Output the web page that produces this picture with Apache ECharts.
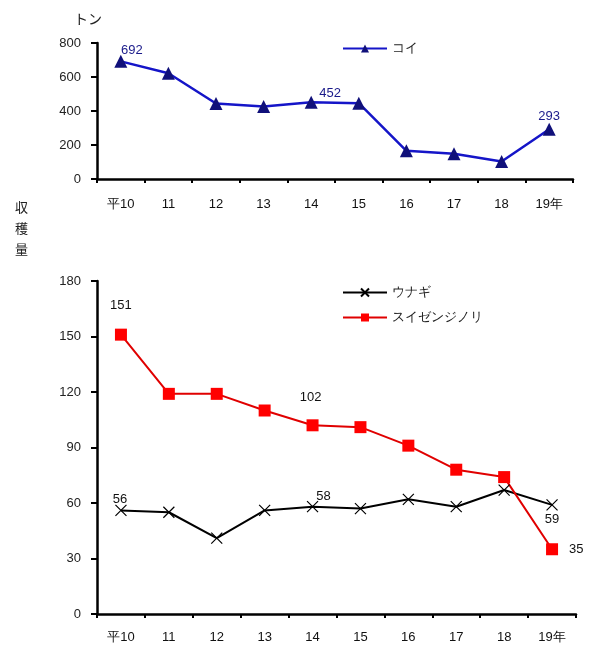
<!DOCTYPE html>
<html>
<head>
<meta charset="utf-8">
<script src="https://cdn.jsdelivr.net/npm/echarts@6/dist/echarts.min.js"></script>
<style>
html,body{margin:0;padding:0;background:#fff;}
#chart{width:591px;height:648px;}
</style>
</head>
<body>
<div id="chart"></div>
<script>
var categories = ['平10','11','12','13','14','15','16','17','18','19年'];
var koi = [692, 622, 444, 427, 452, 446, 166, 148, 103, 293];
var unagi = [56, 55, 41, 56, 58, 57, 62, 58, 67, 59];
var suizenji = [151, 119, 119, 110, 102, 101, 91, 78, 74, 35];
var koiTicks = [0, 200, 400, 600, 800];
var lowerTicks = [0, 30, 60, 90, 120, 150, 180];
var koiLabelIdx = [0, 4, 9];
var unagiLabelIdx = [0, 4, 9];
var suizenjiLabelIdx = [0, 4, 9];

var FONT = '"Liberation Sans", Arial, sans-serif';

function withLabels(values, idxs, labelCfg) {
  return values.map(function (v, i) {
    var k = idxs.indexOf(i);
    if (k < 0) return { value: v, label: { show: false } };
    return { value: v, label: Object.assign({ show: true }, labelCfg[k]) };
  });
}

var chart = echarts.init(document.getElementById('chart'), null, { renderer: 'canvas' });

var axisLine = { show: true, lineStyle: { color: '#000', width: 2.5 } };
var axisLabelY = { color: '#222', fontSize: 13, fontFamily: FONT, margin: 16 };

var option = {
  animation: false,
  backgroundColor: '#fff',
  grid: [
    { left: 97, top: 43, width: 476, height: 136 },
    { left: 97, top: 281, width: 479, height: 333 }
  ],
  legend: [
    {
      data: ['コイ'], left: 337, top: 37, itemWidth: 44, itemHeight: 10, itemGap: 4,
      textStyle: { color: '#222', fontSize: 13, fontFamily: FONT }
    },
    {
      data: ['ウナギ', 'スイゼンジノリ'], orient: 'vertical', left: 337, top: 281,
      itemWidth: 44, itemHeight: 10, itemGap: 12,
      textStyle: { color: '#222', fontSize: 13, fontFamily: FONT }
    }
  ],
  xAxis: [
    {
      gridIndex: 0, type: 'category', data: categories, boundaryGap: true,
      axisLine: axisLine,
      axisTick: { show: true, length: 4, lineStyle: { color: '#000', width: 2 } },
      axisLabel: { color: '#111', fontSize: 13, fontFamily: FONT, margin: 19 },
      splitLine: { show: false }
    },
    {
      gridIndex: 1, type: 'category', data: categories, boundaryGap: true,
      axisLine: axisLine,
      axisTick: { show: true, length: 4, lineStyle: { color: '#000', width: 2 } },
      axisLabel: { color: '#111', fontSize: 13, fontFamily: FONT, margin: 17 },
      splitLine: { show: false }
    }
  ],
  yAxis: [
    {
      gridIndex: 0, type: 'value', min: koiTicks[0], max: koiTicks[koiTicks.length - 1], interval: koiTicks[1] - koiTicks[0],
      axisLine: axisLine,
      axisTick: { show: true, length: 6, lineStyle: { color: '#000', width: 2 } },
      axisLabel: axisLabelY, splitLine: { show: false }
    },
    {
      gridIndex: 1, type: 'value', min: lowerTicks[0], max: lowerTicks[lowerTicks.length - 1], interval: lowerTicks[1] - lowerTicks[0],
      axisLine: axisLine,
      axisTick: { show: true, length: 6, lineStyle: { color: '#000', width: 2 } },
      axisLabel: axisLabelY, splitLine: { show: false }
    }
  ],
  graphic: [
    { type: 'text', left: 74, top: 12, style: { text: 'トン', fill: '#222', fontSize: 14, fontFamily: '"Noto Sans CJK JP", sans-serif' } },
    { type: 'text', left: 15, top: 197, style: { text: '収\n穫\n量', fill: '#222', fontSize: 13, lineHeight: 21, fontFamily: '"Noto Sans CJK JP", sans-serif' } }
  ],
  series: [
    {
      name: 'コイ', type: 'line', xAxisIndex: 0, yAxisIndex: 0,
      symbol: 'triangle', symbolSize: 13,
      itemStyle: { color: '#10107a' },
      lineStyle: { color: '#1515c8', width: 2.5 },
      label: { color: '#1a1a8a', fontSize: 13, fontFamily: FONT },
      data: withLabels(koi, koiLabelIdx, [
        { position: 'top', offset: [11, 7] },
        { position: 'top', offset: [19, 9] },
        { position: 'top', offset: [0, 5] }
      ])
    },
    {
      name: 'ウナギ', type: 'line', xAxisIndex: 1, yAxisIndex: 1,
      symbol: 'path://M0,0L10,10M10,0L0,10', symbolSize: 11,
      itemStyle: { color: '#000', borderColor: '#000', borderWidth: 1.2 },
      lineStyle: { color: '#000', width: 2 },
      label: { color: '#111', fontSize: 13, fontFamily: FONT },
      data: withLabels(unagi, unagiLabelIdx, [
        { position: 'top', offset: [-1, 7] },
        { position: 'top', offset: [11, 7] },
        { position: 'bottom', offset: [0, -3] }
      ])
    },
    {
      name: 'スイゼンジノリ', type: 'line', xAxisIndex: 1, yAxisIndex: 1,
      symbol: 'rect', symbolSize: 12,
      itemStyle: { color: '#ff0000' },
      lineStyle: { color: '#e00000', width: 2 },
      label: { color: '#111', fontSize: 13, fontFamily: FONT },
      data: withLabels(suizenji, suizenjiLabelIdx, [
        { position: 'top', offset: [0, -12] },
        { position: 'top', offset: [-2, -10] },
        { position: 'right', offset: [6, 0] }
      ])
    }
  ]
};
chart.setOption(option);
</script>
</body>
</html>
